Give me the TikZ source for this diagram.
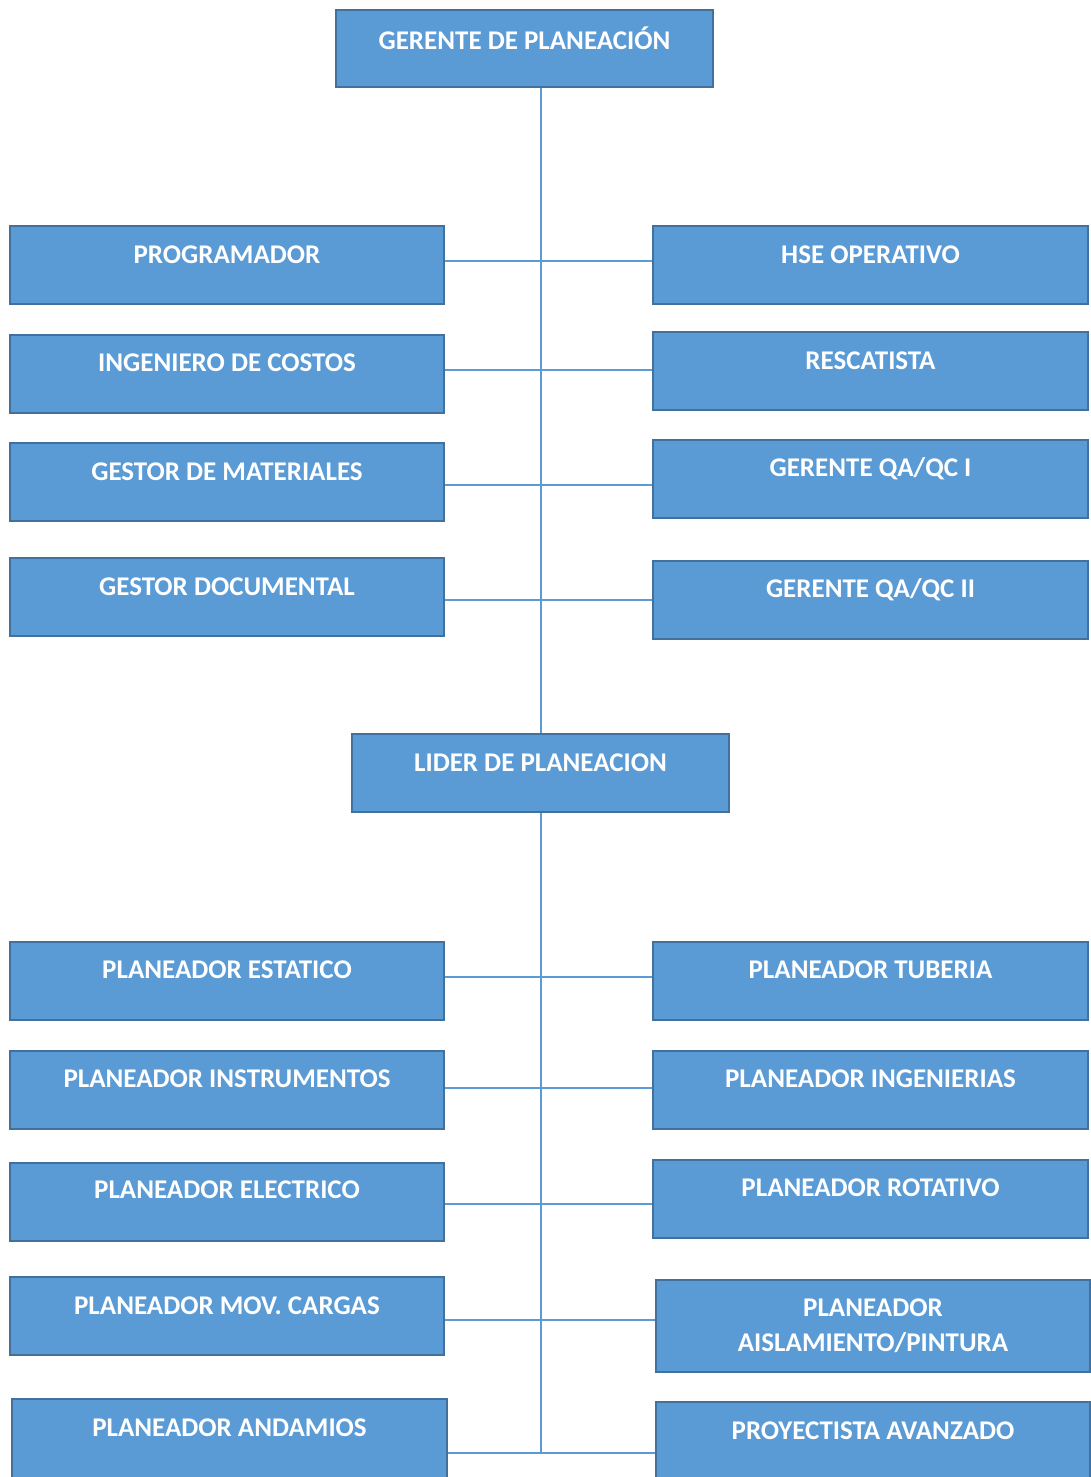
\documentclass[tikz,border=0pt]{standalone}
\usepackage{fontspec}
\setmainfont{Carlito}
\definecolor{boxfill}{HTML}{5B9BD5}
\definecolor{boxedge}{HTML}{41719C}
\definecolor{linecol}{HTML}{5B9BD5}
\newcommand{\orgbox}[7]{%
  \node[box, minimum width={#4-#2}, minimum height={#5-#3}] (#1) at ({(#2+#4)/2},{(#3+#5)/2}) {};
  \node[lbl] (#1t) at ({(#2+#4)/2},#6) {#7};
}
\begin{document}
\begin{tikzpicture}[x=1pt,y=-1pt,
  box/.style={draw=boxedge, fill=boxfill, line width=1.2pt, inner sep=0pt, rectangle},
  lbl/.style={text=white, font=\fontsize{27}{35}\selectfont\bfseries, align=center, inner sep=0pt},
  conn/.style={draw=linecol, line width=1.8pt}]
\clip (0,0) rectangle (1091,1477);
\fill[white] (0,0) rectangle (1091,1477);
% top
\orgbox{ger}{336}{10}{713}{87}{38}{GERENTE DE PLANEACIÓN}
\orgbox{lid}{352}{734}{729}{812}{763}{LIDER DE PLANEACION}
\coordinate (bot) at (541,1453);
% connectors
\draw[conn] (ger.south -| 541,0) -- (lid.north -| 541,0);
\draw[conn] (lid.south -| 541,0) -- (bot);
% left column upper
\orgbox{prog}{10}{226}{444}{304}{255}{PROGRAMADOR}
\orgbox{ing}{10}{335}{444}{413}{363}{INGENIERO DE COSTOS}
\orgbox{gmat}{10}{443}{444}{521}{472}{GESTOR DE MATERIALES}
\orgbox{gdoc}{10}{558}{444}{636}{587}{GESTOR DOCUMENTAL}
% right column upper
\orgbox{hse}{653}{226}{1088}{304}{255}{HSE OPERATIVO}
\orgbox{resc}{653}{332}{1088}{410}{361}{RESCATISTA}
\orgbox{qa1}{653}{440}{1088}{518}{469}{GERENTE QA/QC I}
\orgbox{qa2}{653}{561}{1088}{639}{590}{GERENTE QA/QC II}
% left column lower
\orgbox{pest}{10}{942}{444}{1020}{970}{PLANEADOR ESTATICO}
\orgbox{pins}{10}{1051}{444}{1129}{1079}{PLANEADOR INSTRUMENTOS}
\orgbox{pele}{10}{1163}{444}{1241}{1190}{PLANEADOR ELECTRICO}
\orgbox{pmov}{10}{1277}{444}{1355}{1306}{PLANEADOR MOV. CARGAS}
\orgbox{pand}{12}{1399}{447}{1500}{1428}{PLANEADOR ANDAMIOS}
% right column lower
\orgbox{ptub}{653}{942}{1088}{1020}{970}{PLANEADOR TUBERIA}
\orgbox{ping}{653}{1051}{1088}{1129}{1079}{PLANEADOR INGENIERIAS}
\orgbox{prot}{653}{1160}{1088}{1238}{1188}{PLANEADOR ROTATIVO}
\orgbox{pais}{656}{1280}{1090}{1372}{1326}{PLANEADOR\\AISLAMIENTO/PINTURA}
\orgbox{proy}{656}{1402}{1090}{1500}{1431}{PROYECTISTA AVANZADO}
% horizontal connectors
\draw[conn] (prog.east |- 0,261) -- (hse.west |- 0,261);
\draw[conn] (ing.east |- 0,370) -- (resc.west |- 0,370);
\draw[conn] (gmat.east |- 0,485) -- (qa1.west |- 0,485);
\draw[conn] (gdoc.east |- 0,600) -- (qa2.west |- 0,600);
\draw[conn] (pest.east |- 0,977) -- (ptub.west |- 0,977);
\draw[conn] (pins.east |- 0,1088) -- (ping.west |- 0,1088);
\draw[conn] (pele.east |- 0,1204) -- (prot.west |- 0,1204);
\draw[conn] (pmov.east |- 0,1320) -- (pais.west |- 0,1320);
\draw[conn] (pand.east |- 0,1453) -- (proy.west |- 0,1453);
\end{tikzpicture}
\end{document}
